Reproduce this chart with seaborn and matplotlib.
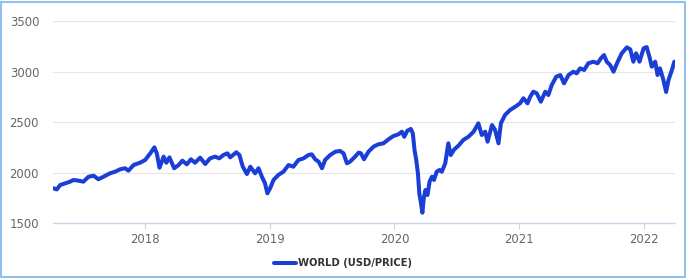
import matplotlib
matplotlib.use("Agg")
import matplotlib.pyplot as plt
import matplotlib.dates as mdates
from matplotlib.patches import Rectangle
import numpy as np
import pandas as pd
import seaborn as sns

dates = [
    "2017-04-07", "2017-04-17", "2017-04-27", "2017-05-12", "2017-05-26", "2017-06-05",
    "2017-06-20", "2017-07-04", "2017-07-19", "2017-08-03", "2017-08-17", "2017-09-01",
    "2017-09-20", "2017-10-05", "2017-10-20", "2017-11-03", "2017-11-13", "2017-11-28",
    "2017-12-17", "2018-01-01", "2018-01-16", "2018-01-28", "2018-02-04", "2018-02-12",
    "2018-02-24", "2018-03-04", "2018-03-13", "2018-03-27", "2018-04-09", "2018-04-20",
    "2018-05-03", "2018-05-15", "2018-05-27", "2018-06-11", "2018-06-26", "2018-07-10",
    "2018-07-25", "2018-08-06", "2018-08-18", "2018-08-30", "2018-09-07", "2018-09-25",
    "2018-10-04", "2018-10-14", "2018-10-26", "2018-11-05", "2018-11-19", "2018-11-29",
    "2018-12-09", "2018-12-18", "2018-12-25", "2019-01-02", "2019-01-12", "2019-01-26",
    "2019-02-10", "2019-02-25", "2019-03-11", "2019-03-26", "2019-04-10", "2019-04-24",
    "2019-05-04", "2019-05-14", "2019-05-24", "2019-06-03", "2019-06-12", "2019-06-27",
    "2019-07-12", "2019-07-26", "2019-08-05", "2019-08-15", "2019-08-24", "2019-09-08",
    "2019-09-18", "2019-09-25", "2019-10-04", "2019-10-17", "2019-11-01", "2019-11-15",
    "2019-11-30", "2019-12-15", "2019-12-29", "2020-01-13", "2020-01-23", "2020-01-30",
    "2020-02-08", "2020-02-18", "2020-02-24", "2020-02-29", "2020-03-05", "2020-03-10",
    "2020-03-14", "2020-03-19", "2020-03-23", "2020-03-27", "2020-04-01", "2020-04-07",
    "2020-04-13", "2020-04-20", "2020-04-26", "2020-05-04", "2020-05-12", "2020-05-19",
    "2020-05-29", "2020-06-07", "2020-06-14", "2020-06-24", "2020-07-07", "2020-07-21",
    "2020-08-05", "2020-08-20", "2020-09-03", "2020-09-13", "2020-09-23", "2020-09-30",
    "2020-10-13", "2020-10-22", "2020-11-01", "2020-11-08", "2020-11-20", "2020-12-05",
    "2020-12-20", "2021-01-03", "2021-01-13", "2021-01-25", "2021-02-02", "2021-02-11",
    "2021-02-21", "2021-03-05", "2021-03-18", "2021-03-27", "2021-04-06", "2021-04-19",
    "2021-05-01", "2021-05-12", "2021-05-25", "2021-06-08", "2021-06-18", "2021-06-28",
    "2021-07-10", "2021-07-22", "2021-08-06", "2021-08-18", "2021-08-28", "2021-09-06",
    "2021-09-14", "2021-09-24", "2021-10-04", "2021-10-14", "2021-10-28", "2021-11-12",
    "2021-11-22", "2021-12-01", "2021-12-09", "2021-12-19", "2021-12-31", "2022-01-09",
    "2022-01-17", "2022-01-24", "2022-02-03", "2022-02-10", "2022-02-17", "2022-02-27",
    "2022-03-07", "2022-03-14", "2022-03-24", "2022-03-31",
]

world_values = [
    1847, 1835, 1879, 1896, 1912, 1929,
    1922, 1912, 1961, 1971, 1936, 1961,
    1995, 2011, 2035, 2045, 2021, 2077,
    2100, 2127, 2193, 2252, 2193, 2050,
    2160, 2100, 2153, 2045, 2077, 2120,
    2084, 2134, 2100, 2150, 2087, 2143,
    2160, 2143, 2176, 2193, 2153, 2203,
    2176, 2060, 1988, 2060, 1995, 2045,
    1961, 1896, 1797, 1847, 1929, 1978,
    2011, 2077, 2060, 2127, 2143, 2176,
    2183, 2134, 2110, 2045, 2127, 2176,
    2209, 2216, 2193, 2094, 2110, 2160,
    2199, 2193, 2134, 2209, 2259, 2282,
    2292, 2332, 2364, 2381, 2407, 2357,
    2417, 2434, 2391, 2226, 2127, 1995,
    1797, 1698, 1605, 1748, 1830, 1780,
    1912, 1961, 1929, 2011, 2028, 2011,
    2094, 2292, 2176, 2230, 2270, 2325,
    2357, 2407, 2490, 2374, 2407, 2308,
    2473, 2424, 2292, 2490, 2572, 2622,
    2654, 2688, 2738, 2688, 2754, 2803,
    2787, 2704, 2803, 2770, 2869, 2951,
    2968, 2886, 2968, 3001, 2985, 3034,
    3018, 3084, 3100, 3084, 3133, 3166,
    3100, 3067, 3001, 3084, 3183, 3242,
    3222, 3100, 3183, 3100, 3232, 3245,
    3150, 3051, 3100, 2968, 3034, 2919,
    2800, 2919, 3018, 3100,
]

y_ticks = [1500, 2000, 2500, 3000, 3500]
series_label = "WORLD (USD/PRICE)"

df = pd.DataFrame({"date": pd.to_datetime(dates), "value": world_values})

sns.set_theme(style="white")
plt.rcParams["font.family"] = ["DejaVu Sans"]

W, H = 686, 278
fig = plt.figure(figsize=(W / 100, H / 100), dpi=100)
fig.patch.set_facecolor("white")

ax_left, ax_right = 53 / W, 675 / W
ax_top, ax_bottom = 1 - 21.3 / H, 1 - 223.3 / H
ax = fig.add_axes([ax_left, ax_bottom, ax_right - ax_left, ax_top - ax_bottom])

sns.lineplot(data=df, x="date", y="value", ax=ax, color="#1b3fd6",
             linewidth=2.9, label=series_label, legend=False)
for ln in ax.get_lines():
    ln.set_solid_joinstyle("round")
    ln.set_solid_capstyle("round")

ax.set_ylim(1500, 3500)
ax.set_xlim(pd.Timestamp("2017-04-06"), pd.Timestamp("2022-04-02"))
ax.set_yticks(y_ticks)
ax.set_xlabel("")
ax.set_ylabel("")

ax.xaxis.set_major_locator(mdates.YearLocator())
ax.xaxis.set_major_formatter(mdates.DateFormatter("%Y"))

ax.grid(axis="y", color="#e6e6e6", linewidth=0.8)
ax.grid(axis="x", visible=False)
ax.set_axisbelow(True)

for s in ["top", "right", "left"]:
    ax.spines[s].set_visible(False)
ax.spines["bottom"].set_color("#ccd6eb")
ax.spines["bottom"].set_linewidth(1.0)

ax.tick_params(axis="x", which="major", length=4.5, width=0.8, color="#ccd6eb",
               labelsize=8.4, labelcolor="#666666", pad=2.5, bottom=True)
ax.tick_params(axis="y", which="major", length=0, labelsize=8.4,
               labelcolor="#666666", pad=10)

# Legend
handles, labels = ax.get_legend_handles_labels()
leg = fig.legend(handles, labels, loc="center", bbox_to_anchor=(343 / W, 1 - 263 / H),
                 frameon=False, handlelength=2.2, handletextpad=0.3,
                 prop={"weight": "bold", "size": 7.2})
for t in leg.get_texts():
    t.set_color("#333333")

# Outer border
fig.patches.append(Rectangle((1 / W, 1.5 / H), (W - 2.5) / W, (H - 3) / H,
                             transform=fig.transFigure, fill=False,
                             edgecolor="#8fc1ec", linewidth=1.5))

fig.savefig("out.png", dpi=100)
